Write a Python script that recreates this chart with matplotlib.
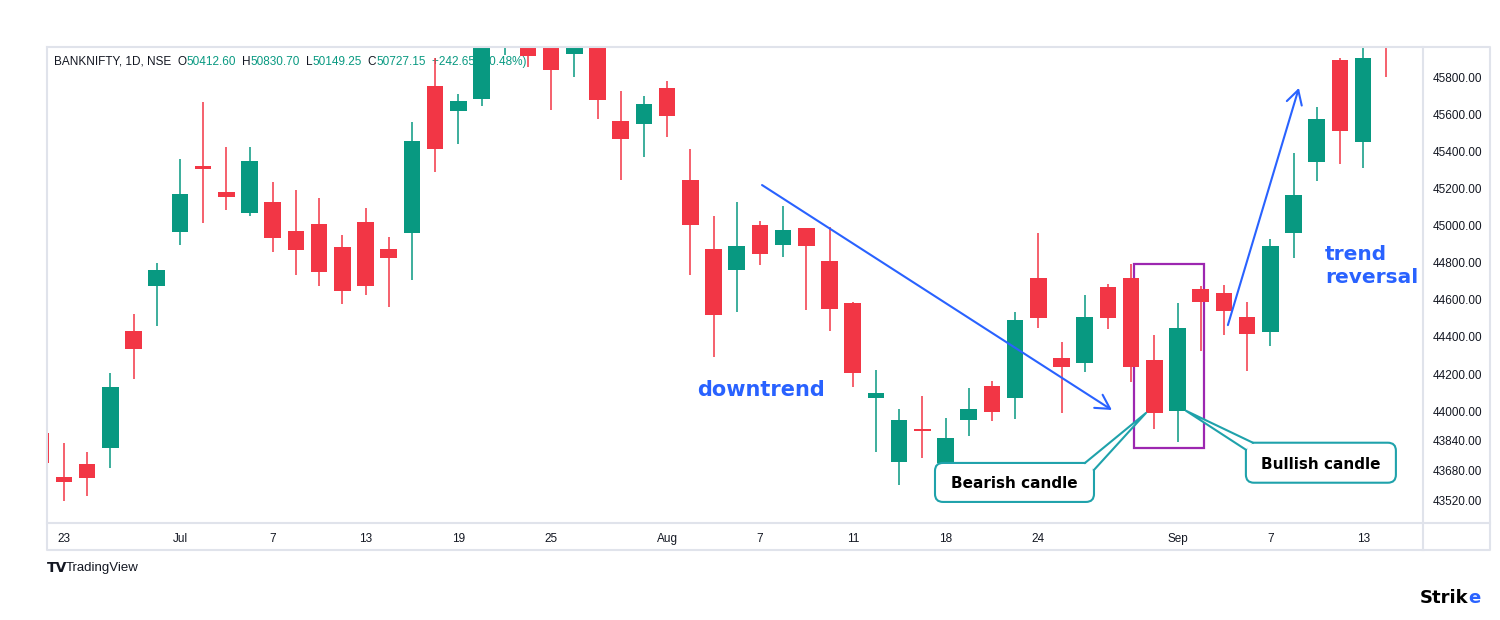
import matplotlib
matplotlib.use("Agg")
import matplotlib.pyplot as plt
from matplotlib.patches import Rectangle, FancyBboxPatch, Polygon
from matplotlib.lines import Line2D
from matplotlib.transforms import IdentityTransform

plt.rcParams["font.family"] = ["Liberation Sans", "DejaVu Sans"]

# daily candles, BANKNIFTY 22 Jun - 14 Sep
opens = [43882, 43643, 43714, 43802, 44430, 44677, 44968, 45323, 45182, 45071,
         45128, 44972, 45010, 44885, 45020, 44875, 44963, 45754, 45621, 45684,
         45990, 46180, 46120, 45927, 46050, 45566, 45551, 45744, 45247, 44875,
         44761, 45004, 44896, 44988, 44810, 44583, 44070, 43727, 43903, 43721,
         43953, 44135, 44072, 44718, 44286, 44261, 44670, 44718, 44276, 44002,
         44659, 44637, 44508, 44427, 44963, 45344, 45895, 45454, 46120]
highs = [43900, 43826, 43777, 44205, 44524, 44797, 45360, 45668, 45425, 45425,
         45236, 45193, 45150, 44950, 45096, 44939, 45560, 45906, 45711, 46080,
         46240, 46250, 46160, 46080, 46100, 45727, 45700, 45781, 45414, 45053,
         45128, 45026, 45107, 44990, 44993, 44590, 44222, 44011, 44081, 43963,
         44125, 44164, 44535, 44961, 44373, 44626, 44686, 44794, 44411, 44583,
         44675, 44678, 44589, 44929, 45393, 45641, 45905, 45990, 46180]
lows = [43700, 43516, 43542, 43694, 44175, 44461, 44898, 45017, 45085, 45054,
        44860, 44734, 44675, 44578, 44626, 44562, 44709, 45290, 45441, 45648,
        45922, 45859, 45625, 45803, 45576, 45247, 45371, 45479, 44734, 44292,
        44535, 44788, 44832, 44545, 44432, 44132, 43781, 43603, 43748, 43673,
        43867, 43948, 43959, 44450, 43991, 44212, 44443, 44159, 43903, 43833,
        44324, 44413, 44216, 44353, 44826, 45243, 45333, 45313, 45803]
closes = [43720, 43619, 43640, 44128, 44337, 44761, 45172, 45306, 45157, 45350,
          44934, 44869, 44751, 44648, 44675, 44826, 45458, 45416, 45673, 46020,
          46150, 45918, 45841, 46010, 45679, 45468, 45657, 45592, 45004, 44518,
          44891, 44848, 44977, 44891, 44551, 44207, 44097, 43952, 43892, 43855,
          44011, 43997, 44491, 44504, 44239, 44508, 44502, 44239, 43990, 44448,
          44589, 44540, 44416, 44891, 45166, 45576, 45513, 45906, 45990]

tick_pos = [1, 6, 10, 14, 18, 22, 27, 31, 35, 39, 43, 49, 53, 57]
tick_labels = ["23", "Jul", "7", "13", "19", "25", "Aug", "7", "11", "18", "24", "Sep", "7", "13"]
price_ticks = [43520, 43680, 43840, 44000, 44200, 44400, 44600, 44800, 45000,
               45200, 45400, 45600, 45800]

header_vals = ["50412.60", "50830.70", "50149.25", "50727.15"]
header_change = "+242.65 (+0.48%)"

green = "#089981"
red = "#f23645"
blue = "#2962ff"
teal = "#1fa2ab"
purple = "#9c27b0"
border = "#e0e3eb"
dark = "#131722"

W, H = 1500, 620
fig = plt.figure(figsize=(15, 6.2), dpi=100)
ax = fig.add_axes([47 / W, 1 - 523 / H, (1423 - 47) / W, (523 - 47) / H])
ax.set_xlim(0.27, 59.58)
ax.set_ylim(43396, 45965)

x = list(range(len(opens)))
colors = [green if c >= o else red for o, c in zip(opens, closes)]
bottoms = [min(o, c) for o, c in zip(opens, closes)]
heights = [max(abs(c - o), 8) for o, c in zip(opens, closes)]
ax.vlines(x, lows, highs, colors=colors, linewidth=1.1, zorder=3)
ax.bar(x, heights, bottom=bottoms, width=0.72, color=colors, linewidth=0, zorder=4)

for s in ax.spines.values():
    s.set_visible(False)
ax.set_xticks(tick_pos)
ax.set_xticklabels(tick_labels)
ax.set_yticks(price_ticks)
ax.set_yticklabels([f"{p:.2f}" for p in price_ticks])
ax.yaxis.tick_right()
ax.tick_params(length=0, labelsize=8.5, labelcolor=dark)
ax.tick_params(axis="x", pad=7)
ax.tick_params(axis="y", pad=7)

# chart frame, price scale and time scale borders
idt = IdentityTransform()
frame = [([47, 1490, 1490, 47, 47], [47, 47, 550, 550, 47]),
         ([1423, 1423], [47, 550]),
         ([47, 1490], [523, 523])]
for xs, ys in frame:
    fig.add_artist(Line2D(xs, [H - y for y in ys], color=border, lw=1.5, transform=idt))

# legend line at the top
prev = ax.text(54, H - 62, "BANKNIFTY, 1D, NSE", transform=idt, fontsize=8.5,
               color=dark, va="center", zorder=1)
for letter, val in zip("OHLC", header_vals):
    prev = ax.annotate(letter, xy=(1, 0), xycoords=prev, xytext=(6, 0),
                       textcoords="offset pixels", va="bottom", fontsize=8.5,
                       color=dark, zorder=1)
    prev = ax.annotate(val, xy=(1, 0), xycoords=prev, xytext=(0, 0),
                       textcoords="offset pixels", va="bottom", fontsize=8.5,
                       color=green, zorder=1)
ax.annotate(header_change, xy=(1, 0), xycoords=prev, xytext=(6, 0),
            textcoords="offset pixels", va="bottom", fontsize=8.5, color=green, zorder=1)

# pattern box and trend arrows
ax.add_patch(Rectangle((47.12, 43801), 3.02, 993, fill=False, ec=purple, lw=1.6, zorder=2))
arrow = dict(arrowstyle="->,head_length=0.5,head_width=0.28", color=blue, lw=1.5,
             mutation_scale=20, shrinkA=0, shrinkB=0)
ax.annotate("", xy=(46.17, 44006), xytext=(31.09, 45220), arrowprops=arrow, zorder=5)
ax.annotate("", xy=(54.23, 45744), xytext=(51.17, 44464), arrowprops=arrow, zorder=5)

ax.text(28.28, 44081, "downtrend", color=blue, fontsize=15, fontweight="bold",
        family="DejaVu Sans", va="baseline", zorder=5)
ax.text(55.35, 44815, "trend", color=blue, fontsize=14.5, fontweight="bold",
        family="DejaVu Sans", va="baseline", zorder=5)
ax.text(55.35, 44691, "reversal", color=blue, fontsize=14.5, fontweight="bold",
        family="DejaVu Sans", va="baseline", zorder=5)


def callout(label, tip, box, tail, text_at):
    tx, ty = ax.transData.transform(tip)
    x0, x1, y0, y1 = box
    ax.add_patch(FancyBboxPatch((tx + x0, ty - y1), x1 - x0, y1 - y0,
                                boxstyle="round,pad=0,rounding_size=8", transform=idt,
                                fc="white", ec=teal, lw=1.5, zorder=6))
    p1 = (tx + tail[0][0], ty - tail[0][1])
    p2 = (tx + tail[1][0], ty - tail[1][1])
    ax.add_patch(Polygon([p1, (tx, ty), p2], closed=True, fc="white", ec="none",
                         transform=idt, zorder=7))
    ax.add_line(Line2D([p1[0], tx, p2[0]], [p1[1], ty, p2[1]], color=teal, lw=1.5,
                       transform=idt, zorder=8))
    ax.text(tx + text_at[0], ty - text_at[1], label, transform=idt, ha="center",
            va="baseline", fontsize=11, fontweight="bold", family="DejaVu Sans",
            color="black", zorder=9)


callout("Bearish candle", (48 - 0.36, closes[48]), (-211, -52, 50, 89),
        [(-61, 50), (-52, 57)], (-132, 75))
callout("Bullish candle", (49 + 0.36, opens[49]), (60, 210, 32, 72),
        [(67, 32), (60, 39)], (135, 58))

# footer logos
fig.text(47 / W, 1 - 568 / H, "TV", fontsize=10, fontweight="bold", family="DejaVu Sans",
         color=dark, va="center")
fig.text(66 / W, 1 - 568 / H, "TradingView", fontsize=9.5, color=dark, va="center")
s = fig.text(1420 / W, 1 - 598 / H, "Strik", fontsize=13, fontweight="bold",
             family="DejaVu Sans", color="black", va="center")
fig.add_artist(plt.Annotation("e", xy=(1, 0), xycoords=s, xytext=(0, 0),
                              textcoords="offset pixels", va="bottom", fontsize=13,
                              fontweight="bold", family="DejaVu Sans", color=blue))

fig.savefig("out.png", dpi=100)
